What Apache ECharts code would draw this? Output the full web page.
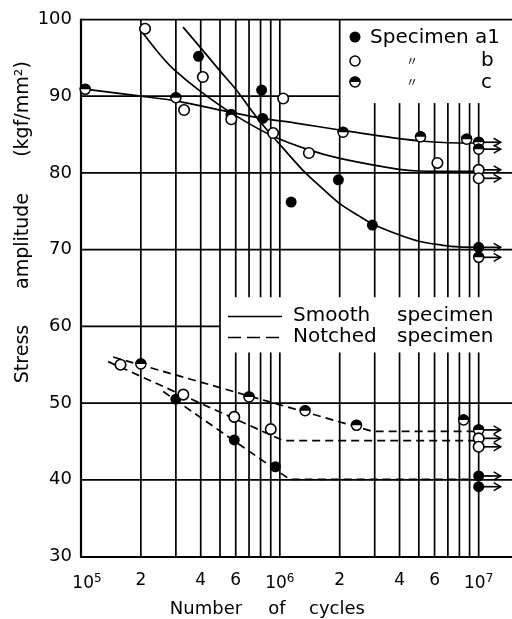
<!DOCTYPE html>
<html><head><meta charset="utf-8">
<script src="https://cdn.jsdelivr.net/npm/echarts@6/dist/echarts.min.js"></script>
<style>html,body{margin:0;padding:0;background:#fff}#c{width:512px;height:619px}</style>
</head><body><div id="c"></div>
<script>
// ---------- data ----------
const xTickLabels = [1e5, 2e5, 4e5, 6e5, 1e6, 2e6, 4e6, 6e6, 1e7];
const yTicks = [30, 40, 50, 60, 70, 80, 90, 100];
const vGridValues = [2e5,3e5,4e5,5e5,6e5,7e5,8e5,9e5,1e6,2e6,3e6,4e6,5e6,6e6,7e6,8e6,9e6,1e7];

// smooth specimens: individual test points
const smoothA = [[3.9e5,95.2],[8.1e5,90.8],[8.2e5,87.1],[1.14e6,76.2],[1.97e6,79.1],[2.92e6,73.2],[1e7,70.3]];
const smoothB = [[2.1e5,98.8],[3.3e5,88.2],[4.1e5,92.5],[5.7e5,87.0],[9.25e5,85.2],[1.04e6,89.7],[1.4e6,82.6],[6.2e6,81.3],[1e7,80.4],[1e7,79.3]];
const smoothC = [[1.05e5,90.9],[3e5,89.8],[5.7e5,87.6],[2.08e6,85.3],[5.1e6,84.7],[8.7e6,84.4],[1e7,84.0],[1e7,83.1],[1e7,69.0]];
// notched specimens: individual test points
const notchA = [[3e5,50.5],[5.9e5,45.2],[9.5e5,41.7],[1e7,40.5],[1e7,39.1]];
const notchB = [[1.58e5,55.0],[3.27e5,51.1],[5.9e5,48.2],[9e5,46.6],[1e7,45.4],[1e7,44.3]];
const notchC = [[2e5,55.1],[7e5,50.8],[1.34e6,49.0],[2.43e6,47.1],[8.4e6,47.8],[1e7,46.5]];
// run-outs (arrows): stress level at 1e7 cycles
const runoutLevels = [84.0, 83.1, 80.4, 79.3, 70.3, 69.0, 46.5, 45.4, 44.3, 40.5, 39.1];
const runoutStart = 1e7, runoutEnd = 1.29e7;

// fitted S-N curves
const curveA = [[3.26e5,99.0],[4e5,96.3],[5e5,93.3],[6e5,90.9],[8e5,86.6],[1e6,83.7],[1.3e6,80.4],[1.6e6,78.2],[2e6,76.0],[2.5e6,74.4],[3e6,73.2],[4e6,71.9],[5e6,71.1],[6.5e6,70.6],[8e6,70.35],[1e7,70.3]];
const curveB = [[2.05e5,98.2],[2.5e5,95.4],[2.9e5,93.6],[3.96e5,90.7],[5.8e5,87.7],[9.2e5,84.8],[1.4e6,83.0],[2e6,81.9],[3.9e6,80.5],[5e6,80.25],[1e7,80.2]];
const curveC = [[1e5,91.0],[2e5,90.0],[3e5,89.4],[5.7e5,87.9],[8.2e5,87.1],[1.2e6,86.5],[2e6,85.6],[3.9e6,84.5],[5.5e6,84.1],[8.7e6,83.9],[1e7,83.9]];
const dashA = [[2.59e5,51.5],[1.12e6,40.06],[1e7,40.06]];
const dashB = [[1.37e5,55.4],[1.04e6,45.1],[1e7,45.1]];
const dashC = [[1.45e5,56.0],[2.94e6,46.3],[1e7,46.3]];

// ---------- layout ----------
const X_MIN = 1e5, X_MAX = 1.471e7;
const FONT = 'DejaVu Sans';
const INK = '#000';

// grid segments [x1,y1,x2,y2]
const gridSegs = [];
vGridValues.forEach(v => {
  const top = v >= 3e6 ? 89.1 : 100;
  if (v >= 6e5) { gridSegs.push([v,30,v,56.6]); gridSegs.push([v,63.8,v,top]); }
  else gridSegs.push([v,30,v,top]);
});
[40,50,70,80].forEach(y => gridSegs.push([X_MIN,y,X_MAX,y]));
gridSegs.push([X_MIN,60,5e5,60]);
gridSegs.push([X_MIN,90,2e6,90]);

const chart = echarts.init(document.getElementById('c'), null, {renderer:'canvas'});

function segRender(params, api) {
  const p1 = api.coord([api.value(0), api.value(1)]);
  const p2 = api.coord([api.value(2), api.value(3)]);
  return {type:'line', shape:{x1:p1[0],y1:p1[1],x2:p2[0],y2:p2[1]}, style:{stroke:INK, lineWidth:1.7}};
}
function halfRender(params, api) {
  const p = api.coord([api.value(0), api.value(1)]);
  return {type:'group', children:[
    {type:'circle', shape:{cx:p[0],cy:p[1],r:5}, style:{fill:'#fff', stroke:INK, lineWidth:1.5}},
    {type:'sector', shape:{cx:p[0],cy:p[1],r:5.6,r0:0,startAngle:Math.PI,endAngle:2*Math.PI}, style:{fill:INK}}
  ]};
}
function arrowRender(params, api) {
  const p0 = api.coord([runoutStart, api.value(0)]);
  const p1 = api.coord([runoutEnd, api.value(0)]);
  return {type:'group', children:[
    {type:'line', shape:{x1:p0[0],y1:p0[1],x2:p1[0],y2:p1[1]}, style:{stroke:INK, lineWidth:1.7}},
    {type:'polyline', shape:{points:[[p1[0]-7,p1[1]-4],[p1[0],p1[1]],[p1[0]-7,p1[1]+4]]}, style:{stroke:INK, lineWidth:1.5, fill:null}}
  ]};
}

const lineStyle = {color:INK, width:1.7};
const dashStyle = {color:INK, width:1.7, type:[8,5]};
const option = {
  animation:false,
  backgroundColor:'#fff',
  grid:{left:81, right:0, top:19.5, bottom:62.5},
  xAxis:{type:'log', logBase:10, min:X_MIN, max:X_MAX,
    axisLine:{show:true, onZero:false, lineStyle:{color:INK, width:2.2}},
    axisTick:{show:false}, splitLine:{show:false}, minorTick:{show:false},
    axisLabel:{customValues:xTickLabels, margin:16, color:INK, fontFamily:FONT, fontSize:17,
      formatter:function(v){
        const e = Math.round(Math.log10(v));
        if (Math.abs(v - Math.pow(10,e)) < 1) return (e===5?'{pad|}':'') + '{b|10}{s|' + e + '}';
        return String(Math.round(v / Math.pow(10, Math.floor(Math.log10(v)+1e-9))));
      },
      rich:{b:{fontFamily:FONT,fontSize:17,color:INK}, s:{fontFamily:FONT,fontSize:12,color:INK,verticalAlign:'top',padding:[0,0,10,0]}, pad:{width:12}}
    }},
  yAxis:{type:'value', min:30, max:100, interval:10,
    axisLine:{show:true, lineStyle:{color:INK, width:2.2}},
    axisTick:{show:false}, splitLine:{show:false},
    axisLabel:{margin:9, color:INK, fontFamily:FONT, fontSize:18}},
  series:[
    {type:'custom', renderItem:segRender, data:gridSegs, encode:{x:[0,2], y:[1,3]}, silent:true, z:1},
    {type:'line', data:[[X_MIN,100],[X_MAX,100]], showSymbol:false, lineStyle:{color:INK,width:2.2}, z:1},
    {type:'line', data:curveA, smooth:0.3, showSymbol:false, lineStyle:lineStyle, z:3},
    {type:'line', data:curveB, smooth:0.3, showSymbol:false, lineStyle:lineStyle, z:3},
    {type:'line', data:curveC, smooth:0.3, showSymbol:false, lineStyle:lineStyle, z:3},
    {type:'line', data:dashA, showSymbol:false, lineStyle:dashStyle, z:3},
    {type:'line', data:dashB, showSymbol:false, lineStyle:dashStyle, z:3},
    {type:'line', data:dashC, showSymbol:false, lineStyle:dashStyle, z:3},
    {type:'custom', renderItem:arrowRender, data:runoutLevels.map(v=>[v]), encode:{y:0}, z:4},
    {type:'scatter', data:smoothA.concat(notchA), symbol:'circle', symbolSize:11, itemStyle:{color:INK, opacity:1}, z:5},
    {type:'scatter', data:smoothB.concat(notchB), symbol:'circle', symbolSize:10.5, itemStyle:{color:'#fff', borderColor:INK, borderWidth:1.6, opacity:1}, z:5},
    {type:'custom', renderItem:halfRender, data:smoothC.concat(notchC), encode:{x:0,y:1}, z:5}
  ],
  graphic:[
    // top-right legend
    {type:'circle', shape:{cx:355,cy:37,r:5.5}, style:{fill:INK}, z:10},
    {type:'text', x:370, y:38, style:{text:'Specimen a1', font:'20px "DejaVu Sans"', fill:INK, textVerticalAlign:'middle'}, z:10},
    {type:'circle', shape:{cx:355,cy:61,r:5}, style:{fill:'#fff',stroke:INK,lineWidth:1.5}, z:10},
    {type:'text', x:412, y:61, style:{text:'〃', font:'12px "Noto Sans CJK JP"', fill:INK, textAlign:'center', textVerticalAlign:'middle'}, z:10},
    {type:'text', x:481, y:61, style:{text:'b', font:'20px "DejaVu Sans"', fill:INK, textVerticalAlign:'middle'}, z:10},
    {type:'circle', shape:{cx:355,cy:82,r:5}, style:{fill:'#fff',stroke:INK,lineWidth:1.5}, z:10},
    {type:'sector', shape:{cx:355,cy:82,r:5.6,r0:0,startAngle:Math.PI,endAngle:2*Math.PI}, style:{fill:INK}, z:11},
    {type:'text', x:412, y:82, style:{text:'〃', font:'12px "Noto Sans CJK JP"', fill:INK, textAlign:'center', textVerticalAlign:'middle'}, z:10},
    {type:'text', x:481, y:83, style:{text:'c', font:'20px "DejaVu Sans"', fill:INK, textVerticalAlign:'middle'}, z:10},
    // line-style legend
    {type:'line', shape:{x1:228,y1:316.5,x2:282,y2:316.5}, style:{stroke:INK,lineWidth:1.7}, z:10},
    {type:'line', shape:{x1:228,y1:337.5,x2:282,y2:337.5}, style:{stroke:INK,lineWidth:1.7,lineDash:[13,6]}, z:10},
    {type:'text', x:293, y:316, style:{text:'Smooth', font:'20px "DejaVu Sans"', fill:INK, textVerticalAlign:'middle'}, z:10},
    {type:'text', x:397, y:316, style:{text:'specimen', font:'20px "DejaVu Sans"', fill:INK, textVerticalAlign:'middle'}, z:10},
    {type:'text', x:293, y:337, style:{text:'Notched', font:'20px "DejaVu Sans"', fill:INK, textVerticalAlign:'middle'}, z:10},
    {type:'text', x:397, y:337, style:{text:'specimen', font:'20px "DejaVu Sans"', fill:INK, textVerticalAlign:'middle'}, z:10},
    // axis titles
    {type:'text', x:23, y:354, rotation:Math.PI/2, style:{text:'Stress', font:'19px "DejaVu Sans"', fill:INK, textAlign:'center', textVerticalAlign:'middle'}, z:10},
    {type:'text', x:23, y:241, rotation:Math.PI/2, style:{text:'amplitude', font:'19px "DejaVu Sans"', fill:INK, textAlign:'center', textVerticalAlign:'middle'}, z:10},
    {type:'text', x:23, y:109, rotation:Math.PI/2, style:{text:'(kgf/mm²)', font:'19px "DejaVu Sans"', fill:INK, textAlign:'center', textVerticalAlign:'middle'}, z:10},
    {type:'text', x:206, y:609, style:{text:'Number', font:'18px "DejaVu Sans"', fill:INK, textAlign:'center', textVerticalAlign:'middle'}, z:10},
    {type:'text', x:277, y:609, style:{text:'of', font:'18px "DejaVu Sans"', fill:INK, textAlign:'center', textVerticalAlign:'middle'}, z:10},
    {type:'text', x:337, y:609, style:{text:'cycles', font:'18px "DejaVu Sans"', fill:INK, textAlign:'center', textVerticalAlign:'middle'}, z:10}
  ]
};
chart.setOption(option);
</script></body></html>
